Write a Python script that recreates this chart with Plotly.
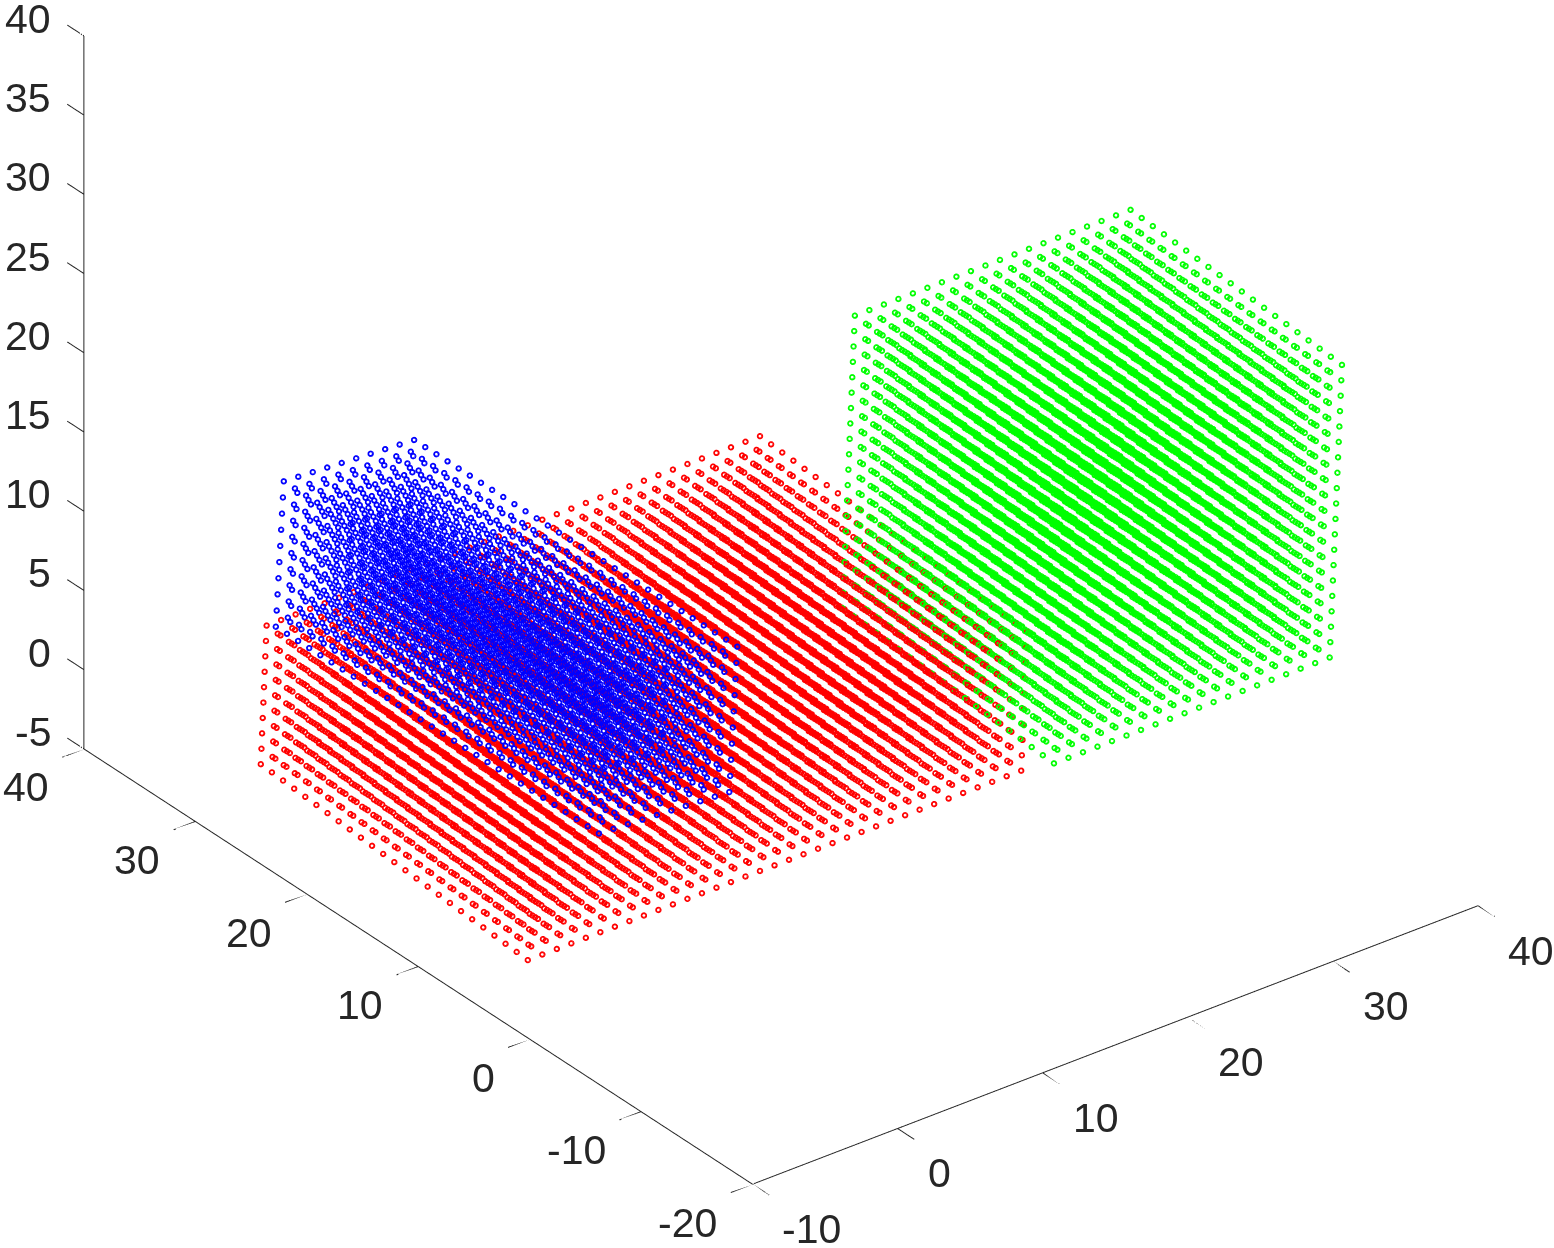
import numpy as np
import plotly.graph_objects as go

X_TICKS = [-10, 0, 10, 20, 30, 40]
Y_TICKS = [-20, -10, 0, 10, 20, 30, 40]
Z_TICKS = [-5, 0, 5, 10, 15, 20, 25, 30, 35, 40]

# lattice steps of each block
STEPS_10 = [0, 1, 2, 3, 4, 5, 6, 7, 8, 9]
STEPS_20 = STEPS_10 + [10, 11, 12, 13, 14, 15, 16, 17, 18, 19]
STEPS_25 = STEPS_20 + [20, 21, 22, 23, 24]
STEPS_30 = STEPS_25 + [25, 26, 27, 28, 29]
STEPS_35 = STEPS_30 + [30, 31, 32, 33, 34]

# corner of each block and its three edge vectors
RED_ORIGIN = [-10.0, 0.18, -0.09]
RED_EDGES = [[1, 0, 0], [0, 0.9985, 0.058], [0, -0.058, 0.9985]]
GREEN_ORIGIN = [20.0, -7.97, 5.51]
GREEN_EDGES = RED_EDGES
BLUE_ORIGIN = [-8.0, 25.4, 8.7]
BLUE_EDGES = [[0.998, 0, -0.061], [0, -1, 0.008], [0.061, 0, 0.998]]

TICK_LEN = 1.5            # tick length in data units
INK = "#262626"
RING_SIZES = [3.6, 3.0, 2.4, 1.9]   # stacked open circles give the thick marker ring


def lattice(origin, edges, a, b, c):
    A, B, C = np.meshgrid(a, b, c, indexing="ij")
    pts = np.stack([A.ravel(), B.ravel(), C.ravel()], axis=1) @ np.array(edges) + np.array(origin)
    return pts[:, 0], pts[:, 1], pts[:, 2]


def cloud(origin, edges, a, b, c, color):
    x, y, z = lattice(origin, edges, a, b, c)
    return [go.Scatter3d(x=x, y=y, z=z, mode="markers", showlegend=False, hoverinfo="skip",
                         marker=dict(size=s, color=color, symbol="circle-open"))
            for s in RING_SIZES]


def axis_lines():
    xs, ys, zs = [], [], []
    def seg(a, b):
        xs.extend([a[0], b[0], None]); ys.extend([a[1], b[1], None]); zs.extend([a[2], b[2], None])
    x0, y0, z0 = X_TICKS[0], Y_TICKS[0], Z_TICKS[0]
    seg((x0, y0, z0), (X_TICKS[-1], y0, z0))
    seg((x0, y0, z0), (x0, Y_TICKS[-1], z0))
    seg((x0, Y_TICKS[-1], z0), (x0, Y_TICKS[-1], Z_TICKS[-1]))
    for t in X_TICKS:
        seg((t, y0, z0), (t, y0 - TICK_LEN, z0))
    for t in Y_TICKS:
        seg((x0, t, z0), (x0 - TICK_LEN, t, z0))
    for t in Z_TICKS:
        seg((x0, Y_TICKS[-1], t), (x0, Y_TICKS[-1] + TICK_LEN, t))
    return go.Scatter3d(x=xs, y=ys, z=zs, mode="lines", showlegend=False, hoverinfo="skip",
                        line=dict(color=INK, width=2))


fig = go.Figure([axis_lines()]
                + cloud(RED_ORIGIN, RED_EDGES, STEPS_35, STEPS_25, STEPS_10, "#ff0000")
                + cloud(GREEN_ORIGIN, GREEN_EDGES, STEPS_20, STEPS_20, STEPS_20, "#00ff00")
                + cloud(BLUE_ORIGIN, BLUE_EDGES, STEPS_10, STEPS_30, STEPS_10, "#0000ff"))

XR = [X_TICKS[0] - TICK_LEN, X_TICKS[-1]]
YR = [Y_TICKS[0] - TICK_LEN, Y_TICKS[-1] + TICK_LEN]
ZR = [Z_TICKS[0], Z_TICKS[-1]]


def axis(rng):
    return dict(range=rng, visible=False, showspikes=False)


FONT = dict(family="Liberation Sans", size=41, color=INK)
labels = []
for t in Z_TICKS:
    labels.append(dict(x=-10, y=40, z=t, text=str(t), showarrow=False, font=FONT,
                       xanchor="right", yanchor="middle", xshift=-31, yshift=17))
for t in Y_TICKS:
    labels.append(dict(x=-10, y=t, z=-5, text=str(t), showarrow=False, font=FONT,
                       xanchor="right", yanchor="middle", xshift=-33, yshift=-38.5))
for t in X_TICKS:
    labels.append(dict(x=t, y=-20, z=-5, text=str(t), showarrow=False, font=FONT,
                       xanchor="left", yanchor="middle", xshift=28, yshift=-45))

D = np.array([-0.5275, -0.6870, 0.5])
U = 1.466 / 50            # scene units per data unit
mid = np.array([sum(XR), sum(YR), sum(ZR)]) / 2
look = np.array([15 - 0.173, 10 + 0.133, 17.5 - 9.67])
C = (look - mid) * U
eye = C + D * 5.0
fig.update_layout(
    width=1554, height=1248, margin=dict(l=0, r=0, t=0, b=0), paper_bgcolor="white",
    scene=dict(
        domain=dict(x=[0, 1], y=[0, 1]),
        xaxis=axis(XR), yaxis=axis(YR), zaxis=axis(ZR),
        annotations=labels,
        aspectmode="manual",
        aspectratio=dict(x=(XR[1] - XR[0]) * U, y=(YR[1] - YR[0]) * U, z=(ZR[1] - ZR[0]) * U),
        camera=dict(projection=dict(type="orthographic"), up=dict(x=0, y=0, z=1),
                    eye=dict(x=eye[0], y=eye[1], z=eye[2]), center=dict(x=C[0], y=C[1], z=C[2])),
    ),
)
fig.write_html("out.html", config=dict(displayModeBar=False),
               post_script="document.body.style.margin='0';")
